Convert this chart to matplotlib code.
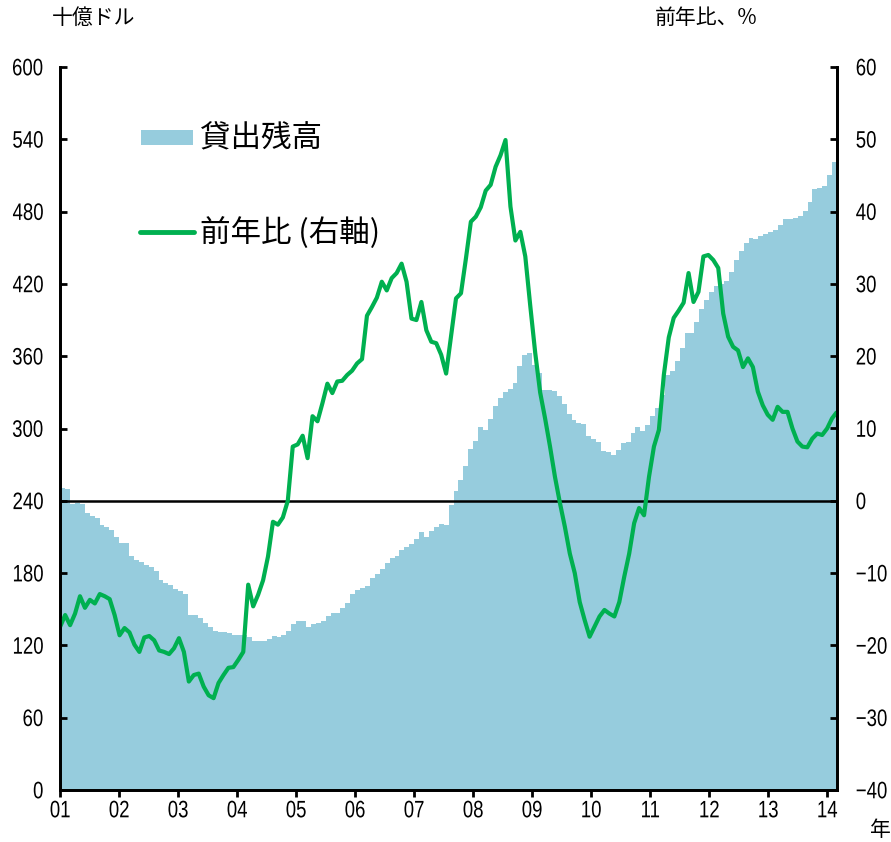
import numpy as np
import matplotlib
matplotlib.use('Agg')
import matplotlib.pyplot as plt
from matplotlib.lines import Line2D
from matplotlib.patches import Rectangle
from matplotlib.patheffects import AbstractPathEffect
from matplotlib.transforms import Affine2D

# Monthly outstanding loans (billion USD), Jan 2001 - Feb 2014
loans = [251, 250, 237, 238.5, 237, 230, 227, 226, 220, 218.5,
         216, 210, 205, 205, 194, 191, 189, 187, 185, 182,
         174, 172, 170, 167, 165, 163, 145, 145, 143, 139,
         135, 132, 131, 131, 130, 129, 129, 129, 127, 124,
         124, 124, 125, 128, 127, 129, 132, 138, 140, 140.5,
         135, 138, 139, 140.5, 144, 146.5, 147, 151, 155, 163,
         166, 168, 169, 176, 179, 183, 188, 192.5, 194, 199,
         202, 204, 208, 214, 210, 215, 218, 220.5, 220, 236.5,
         248, 257, 269, 283, 290, 301, 299, 308, 319, 325.5,
         330, 332.5, 338, 352, 361, 363, 353, 346, 332, 332,
         331, 327, 320, 312, 307, 304.5, 304, 294, 291.5, 289,
         281.5, 280.5, 278, 282, 288, 289, 296, 301.5, 298, 303,
         310, 317, 328, 344, 348, 356, 366.5, 379.5, 379, 388.5,
         399, 406.5, 413.5, 418, 420, 422, 430, 440, 447.5, 454,
         458.5, 457.5, 460, 461.5, 463, 465, 469, 474, 473.5, 475,
         476.5, 480.5, 488, 498.5, 500, 501, 510, 521.5]

# Year-on-year change (%), right axis
yoy = [-17.4, -15.8, -17.2, -15.6, -13.2, -14.8, -13.7, -14.2, -12.9, -13.2,
       -13.6, -15.8, -18.6, -17.6, -18.2, -19.9, -20.9, -18.9, -18.7, -19.3,
       -20.7, -20.9, -21.2, -20.4, -19.0, -20.9, -25.0, -24.1, -23.9, -25.7,
       -26.9, -27.3, -25.2, -24.1, -23.1, -23.0, -22.0, -20.9, -11.6, -14.6,
       -13.0, -11.0, -7.7, -2.9, -3.3, -2.3, 0.0, 7.5, 7.8, 9.0,
       5.9, 11.7, 11.0, 13.5, 16.2, 14.9, 16.5, 16.6, 17.4, 18.0,
       19.0, 19.6, 25.6, 26.8, 28.1, 30.3, 29.1, 30.8, 31.5, 32.8,
       30.3, 25.2, 25.0, 27.5, 23.6, 22.0, 21.8, 20.2, 17.6, 22.8,
       28.0, 28.7, 33.5, 38.6, 39.3, 40.6, 42.9, 43.7, 46.2, 47.8,
       49.9, 40.7, 36.0, 37.2, 33.8, 27.0, 20.5, 15.0, 11.4, 7.5,
       3.3, -0.3, -3.6, -7.3, -10.0, -14.0, -16.5, -18.8, -17.4, -16.0,
       -15.1, -15.6, -16.0, -14.0, -10.5, -7.3, -3.1, -1.0, -2.0, 3.3,
       7.5, 9.8, 17.4, 22.6, 25.3, 26.3, 27.4, 31.5, 27.5, 28.9,
       33.8, 34.0, 33.3, 32.2, 25.9, 22.7, 21.3, 20.8, 18.5, 19.7,
       18.5, 15.1, 13.2, 11.9, 11.2, 13.0, 12.3, 12.3, 10.0, 8.2,
       7.5, 7.4, 8.6, 9.3, 9.1, 10.0, 11.4, 12.3]

year_labels = ['01', '02', '03', '04', '05', '06', '07', '08', '09', '10',
               '11', '12', '13', '14']
left_ticks = list(range(0, 601, 60))
right_ticks = list(range(-40, 61, 10))

BAR_COLOR = '#96CCDD'
LINE_COLOR = '#00B050'
W, H = 891, 842


class Tall(AbstractPathEffect):
    """Draw text stretched vertically about its own vertical centre."""

    def __init__(self, sy=1.28, sx=1.0, anchor='center'):
        super().__init__()
        self.sy = sy
        self.sx = sx
        self.anchor = anchor

    def draw_path(self, renderer, gc, tpath, affine, rgbFace=None):
        ext = tpath.get_extents()
        if self.anchor == 'left':
            x0 = ext.x0
        elif self.anchor == 'right':
            x0 = ext.x1
        else:
            x0 = 0.5 * (ext.x0 + ext.x1)
        y0 = 0.5 * (ext.y0 + ext.y1)
        t = (Affine2D().translate(-x0, -y0)
             .scale(self.sx, self.sy).translate(x0, y0))
        renderer.draw_path(gc, tpath, t + affine, rgbFace)


plt.rcParams['font.family'] = ['Liberation Sans', 'DejaVu Sans']
jp = ['Noto Sans CJK JP', 'DejaVu Sans']

fig = plt.figure(figsize=(W / 100, H / 100), dpi=100)
ax = fig.add_axes([60.2 / W, 52 / H, (837 - 60.2) / W, 723 / H])

n = len(loans)
x = np.arange(n)
ax.bar(x, loans, width=1.0, align='edge', color=BAR_COLOR, linewidth=0)
ax.axhline(240, color='black', lw=1.8, zorder=3)
ax.set_xlim(0, n)
ax.set_ylim(0, 600)
ax.set_yticks(left_ticks)
ax.set_xticks(np.arange(len(year_labels)) * 12)
ax.set_xticklabels(year_labels)

ax2 = ax.twinx()
xl = np.linspace(0, n, n)
ax2.plot(xl, yoy, color=LINE_COLOR, lw=3.0, solid_joinstyle='round',
         solid_capstyle='butt')
ax2.set_ylim(-40, 60)
ax2.set_yticks(right_ticks)
ax2.set_xlim(0, n)

for a in (ax, ax2):
    a.spines['top'].set_visible(False)
    for s in ('left', 'right', 'bottom'):
        a.spines[s].set_linewidth(2.0)
        a.spines[s].set_color('black')

TS = 13.4
ax.tick_params(axis='y', direction='in', length=5, width=2, labelsize=TS, pad=12)
ax.tick_params(axis='x', direction='out', length=5, width=2, labelsize=TS, pad=4)
ax2.tick_params(axis='y', direction='in', length=5, width=2, labelsize=TS, pad=13.5)

for lab in ax.get_yticklabels():
    lab.set_path_effects([Tall(1.28, 1.0, 'right')])
for lab in ax.get_xticklabels():
    lab.set_path_effects([Tall(1.28, 1.0, 'center')])
for lab in ax2.get_yticklabels():
    lab.set_path_effects([Tall(1.28, 1.0, 'left')])

# Legend (manual)
fig.add_artist(Rectangle((141 / W, 1 - 145 / H), 52 / W, 15 / H,
                         transform=fig.transFigure, color=BAR_COLOR, lw=0))
fig.add_artist(Line2D([140 / W, 194 / W], [1 - 232 / H, 1 - 232 / H],
                      transform=fig.transFigure, color=LINE_COLOR, lw=3.5,
                      solid_capstyle='round'))
fig.text(200 / W, 1 - 139 / H, '貸出残高', fontsize=22, va='center', ha='left', family=jp)
fig.text(200 / W, 1 - 233 / H, '前年比 (右軸)', fontsize=22, va='center', ha='left', family=jp)

fig.text(52 / W, 1 - 17.5 / H, '十億ドル', fontsize=15, va='center', ha='left', family=jp)
fig.text(655 / W, 1 - 17.5 / H, '前年比、%', fontsize=15, va='center', ha='left', family=jp)
fig.text(870 / W, 1 - 830 / H, '年', fontsize=15, va='center', ha='left', family=jp)

fig.savefig('out.png', dpi=100)
